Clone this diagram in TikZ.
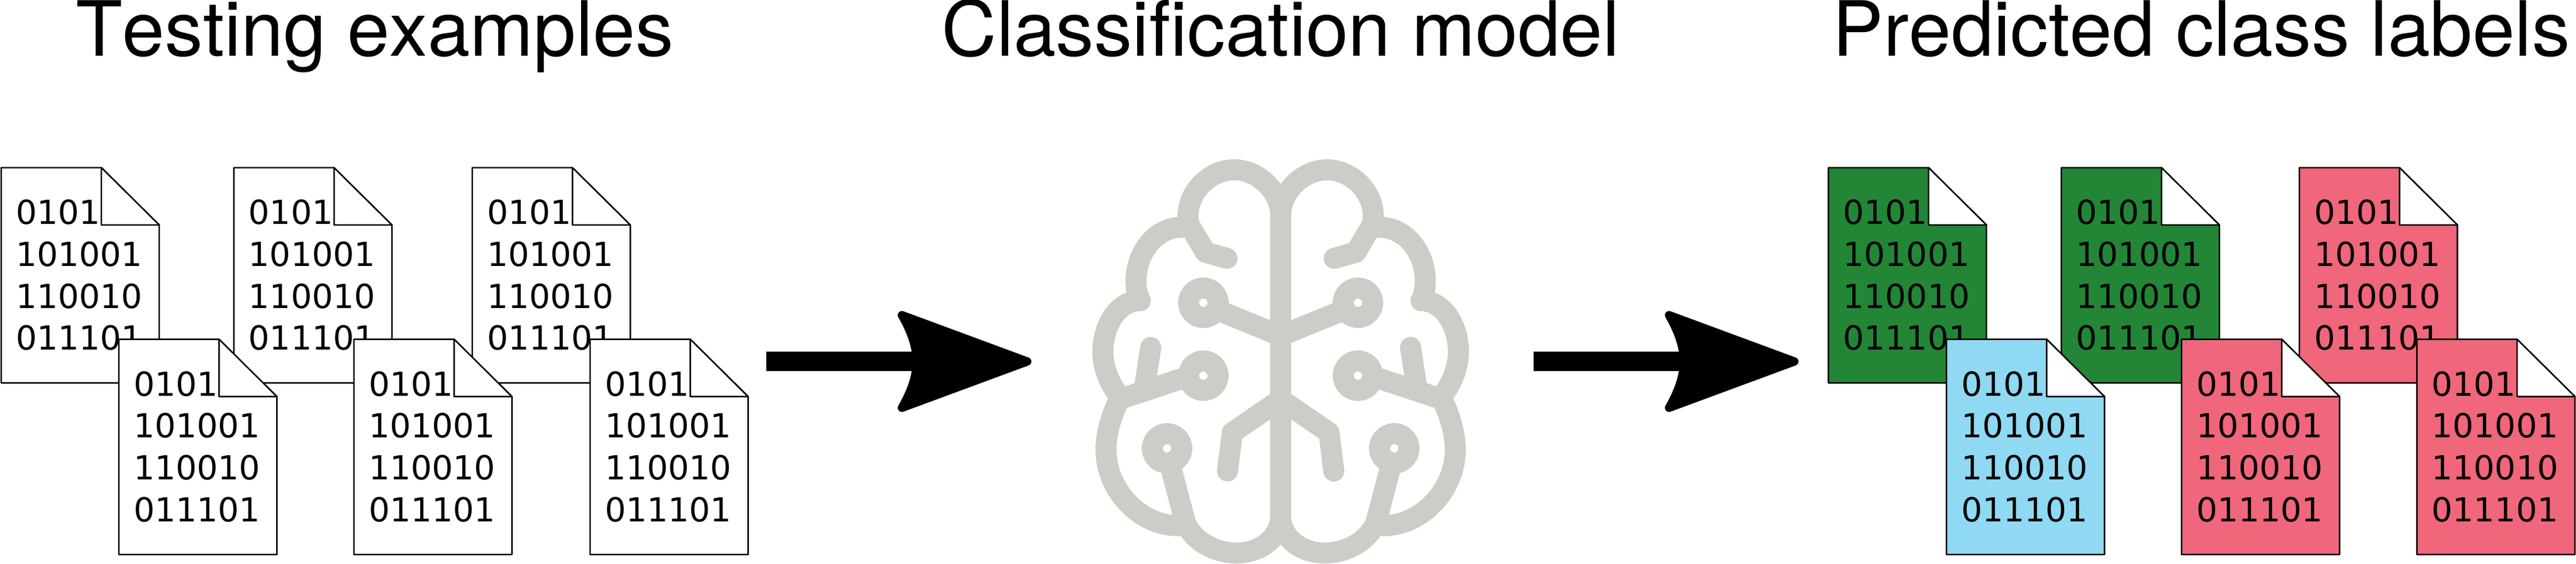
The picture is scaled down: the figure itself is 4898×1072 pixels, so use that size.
\documentclass[tikz,border=0pt]{standalone}
\usepackage{fontspec}
\setmainfont[Kerning=Off]{TeX Gyre Heros}
\newfontfamily\digitface{DejaVu Sans}
\definecolor{docgreen}{HTML}{228636}
\definecolor{docblue}{HTML}{8FD9F2}
\definecolor{docpink}{HTML}{F0667A}
\definecolor{brainc}{HTML}{CDCCC6}
\pgfdeclarearrow{
  name=BlobHead,
  cache=false,
  setup code={
    \pgfarrowssettipend{0pt}
    \pgfarrowssetlineend{-200pt}
    \pgfarrowssetvisualbackend{-254pt}
    \pgfarrowssetbackend{-254pt}
    \pgfarrowshullpoint{0pt}{0pt}
    \pgfarrowshullpoint{-254pt}{96pt}
    \pgfarrowshullpoint{-254pt}{-96pt}
  },
  drawing code={
    \pgfsetroundjoin
    \pgfsetlinewidth{16pt}
    \pgfpathmoveto{\pgfpoint{-8pt}{0pt}}
    \pgfpathlineto{\pgfpoint{-246pt}{88pt}}
    \pgfpathcurveto{\pgfpoint{-230pt}{60pt}}{\pgfpoint{-218pt}{30pt}}{\pgfpoint{-218pt}{0pt}}
    \pgfpathcurveto{\pgfpoint{-218pt}{-30pt}}{\pgfpoint{-230pt}{-60pt}}{\pgfpoint{-246pt}{-88pt}}
    \pgfpathclose
    \pgfusepathqfillstroke
  }
}
\tikzset{
  title/.style={font=\fontsize{145}{150}\selectfont, inner sep=0pt, anchor=base},
  digits/.style={font=\digitface\fontsize{63}{79.8}\selectfont, align=left, inner sep=0pt, anchor=south west},
  docline/.style={draw=black, line width=2.8pt, line join=round},
  brainline/.style={draw=brainc, line width=40pt, line cap=round, line join=round},
  bigarrow/.style={draw=black, line width=36.7pt, -{BlobHead}}
}
\newcommand\docfile[4]{%
  \begin{scope}[shift={(#2,#3)}]
    \filldraw[docline, fill=#4] (0,0) -- (190.5,0) -- (300.5,109) -- (300.5,409.5) -- (0,409.5) -- cycle;
    \filldraw[docline, fill=white] (190.5,0) -- (300.5,109) -- (190.5,109) -- cycle;
    \node[digits] (#1) at (28,348) {0101\\101001\\110010\\011101};
  \end{scope}}
\newcommand\brainhalf{%
  \draw[brainline] (0,410) .. controls (0,362) and (-45,323) .. (-88,323)
    .. controls (-135,323) and (-176,365) .. (-176,410)
    -- (-175,426) -- (-143,480) -- (-102,491.5);
  \draw[brainline] (-176,433) .. controls (-235,425) and (-275,480) .. (-275,534)
    .. controls (-275,550) and (-272,562) .. (-267,572);
  \draw[brainline] (-267,572) .. controls (-310,572) and (-338,620) .. (-338,669)
    .. controls (-338,700) and (-325,730) .. (-308,752);
  \draw[brainline] (-306,758) .. controls (-322,790) and (-332,825) .. (-332,855)
    .. controls (-332,935) and (-265,1000) .. (-196,1000);
  \draw[brainline] (-181,995) .. controls (-165,1030) and (-125,1052) .. (-84,1052)
    .. controls (-35,1052) and (0,1020) .. (0,982);
  \draw[brainline] (0,639) -- (-122,589);
  \draw[brainline] (-175,716) -- (-308,760);
  \draw[brainline] (-247,661) -- (-259,739);
  \draw[brainline] (-211,881) -- (-181,995);
  \draw[brainline] (0,760) -- (-92,823) -- (-101,896);
  \draw[brainline] (-147,576) circle[radius=28];
  \draw[brainline] (-147,714.7) circle[radius=28];
  \draw[brainline] (-216,853) circle[radius=28];
}
\begin{document}
\begin{tikzpicture}[x=1pt,y=-1pt]
  \useasboundingbox (0,0) rectangle (4898,1072);
  % titles
  \node[title] (t1) at (712.5,106) {Testing examples};
  \node[title] (t2) at (2435,106) {Classification model};
  \node[title] (t3) at (4185.5,106) {Predicted class labels};
  % testing examples
  \docfile{a1}{2.3}{319}{white}
  \docfile{a2}{444.7}{319}{white}
  \docfile{a3}{898}{319}{white}
  \docfile{a4}{226}{645.5}{white}
  \docfile{a5}{673}{645.5}{white}
  \docfile{a6}{1122}{645.5}{white}
  % predicted labels
  \docfile{b1}{3476.5}{319}{docgreen}
  \docfile{b2}{3919.4}{319}{docgreen}
  \docfile{b3}{4372}{319}{docpink}
  \docfile{b4}{3701}{645.5}{docblue}
  \docfile{b5}{4148}{645.5}{docpink}
  \docfile{b6}{4595.5}{645.5}{docpink}
  % brain
  \begin{scope}[shift={(2435,0)}]
    \draw[brainline] (0,410) -- (0,982);
    \brainhalf
    \begin{scope}[xscale=-1]
      \brainhalf
    \end{scope}
  \end{scope}
  % arrows
  \coordinate (s1) at (1457,687.7);
  \coordinate (e1) at (1961,687.7);
  \coordinate (s2) at (2915.6,687.7);
  \coordinate (e2) at (3419.6,687.7);
  \draw[bigarrow] (s1) -- (e1);
  \draw[bigarrow] (s2) -- (e2);
\end{tikzpicture}
\end{document}
